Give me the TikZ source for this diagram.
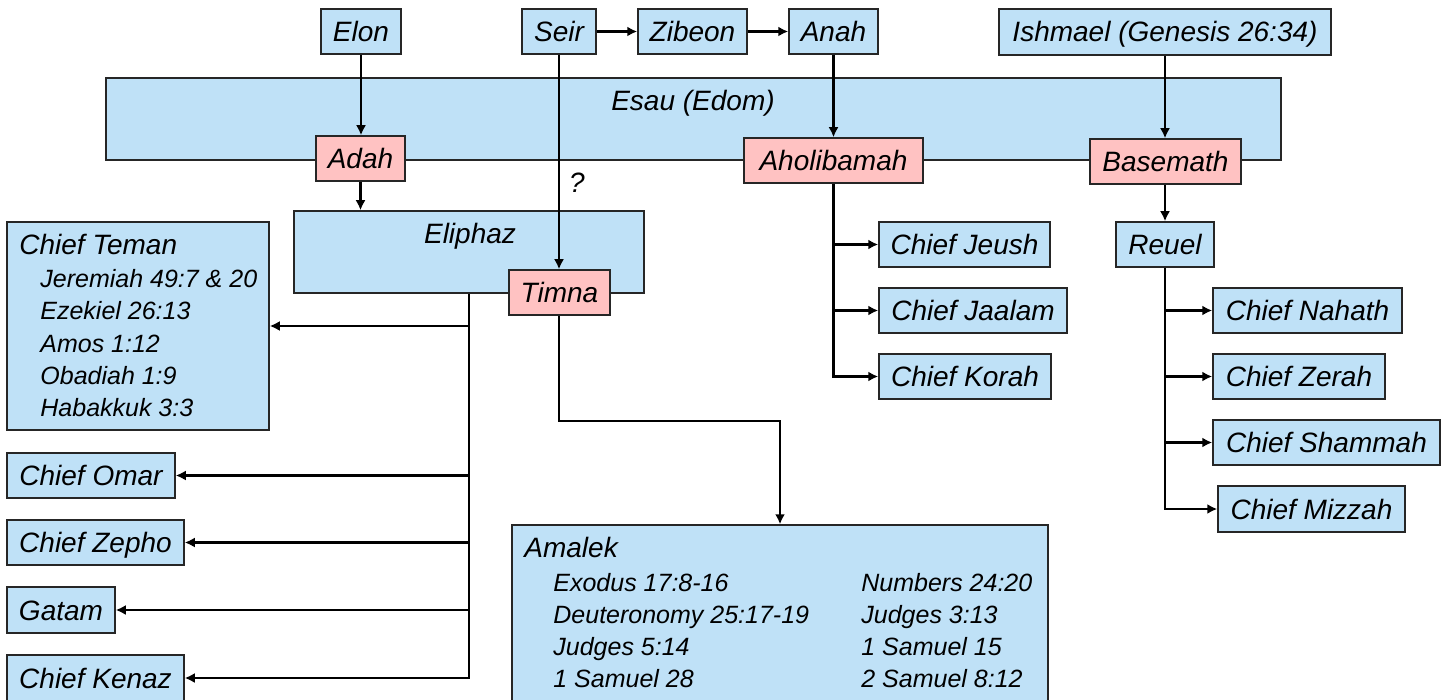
\documentclass[tikz,border=0pt]{standalone}
\usepackage{fontspec}
\setmainfont{Liberation Sans}
\usetikzlibrary{arrows.meta}
\definecolor{bl}{HTML}{BFE1F7}
\definecolor{pk}{HTML}{FFC2C2}
\definecolor{bd}{HTML}{262626}
\newcommand\bx[7]{\node[#6, minimum width={(#4-#2)*0.5pt}, minimum height={(#5-#3)*0.5pt}] (#1) at ({(#2+#4)/2},{(#3+#5)/2}) {#7};}
\begin{document}
\begin{tikzpicture}[x=0.5pt,y=-0.5pt,
  every node/.style={font=\fontsize{14}{16}\selectfont\itshape},
  box/.style={draw=bd, line width=0.75pt, fill=bl, inner sep=0pt, text height=10pt, text depth=0pt},
  wbox/.style={box, fill=pk},
  arr/.style={draw=black, line width=1.1pt, -{Latex[length=5pt,width=5pt]}},
  lbl/.style={anchor=base west, inner sep=0pt},
  sub/.style={lbl, font=\fontsize{12.5}{15}\selectfont\itshape},
  ]
\useasboundingbox (0,0) rectangle (1445,700);
% big boxes
\bx{esau}{106}{78}{1281}{160}{box}{}
\bx{eliphaz}{294}{211}{644}{293}{box}{}
\bx{teman}{7}{222}{269}{430}{box}{}
\bx{amalek}{512}{525}{1048}{702}{box}{}
% small boxes
\bx{elon}{321}{9}{401}{54}{box}{Elon}
\bx{seir}{522}{9}{596}{54}{box}{Seir}
\bx{zibeon}{638}{9}{747}{54}{box}{Zibeon}
\bx{anah}{789}{9}{878}{54}{box}{Anah}
\bx{ishmael}{999}{9}{1331}{55}{box}{Ishmael (Genesis 26:34)}
\bx{adah}{316}{136}{405}{181}{wbox}{Adah}
\bx{aholi}{744}{138}{923}{183}{wbox}{Aholibamah}
\bx{basemath}{1090}{139}{1241}{184}{wbox}{Basemath}
\bx{timna}{509}{270}{610}{315}{wbox}{Timna}
\bx{reuel}{1116}{222}{1214}{267}{box}{Reuel}
\bx{jeush}{879}{222}{1050}{267}{box}{Chief Jeush}
\bx{jaalam}{879}{288}{1067}{333}{box}{Chief Jaalam}
\bx{korah}{879}{354}{1051}{399}{box}{Chief Korah}
\bx{nahath}{1213}{288}{1402}{333}{box}{Chief Nahath}
\bx{zerah}{1213}{354}{1385}{399}{box}{Chief Zerah}
\bx{shammah}{1213}{420}{1440}{465}{box}{Chief Shammah}
\bx{mizzah}{1218}{486}{1405}{532}{box}{Chief Mizzah}
\bx{omar}{7}{453}{175}{498}{box}{Chief Omar}
\bx{zepho}{7}{520}{184}{565}{box}{Chief Zepho}
\bx{gatam}{7}{587}{115}{633}{box}{Gatam}
\bx{kenaz}{7}{655}{184}{701}{box}{Chief Kenaz}
% texts in big boxes
\node[anchor=base, inner sep=0pt] (esautext) at (693,111) {Esau (Edom)};
\node[anchor=base, inner sep=0pt] (eliphaztext) at (470,243) {Eliphaz};
\node[lbl] (temantitle) at (19,255) {Chief Teman};
\node[sub] (teman1) at (40,287) {Jeremiah 49:7 \& 20};
\node[sub] (teman2) at (40,320) {Ezekiel 26:13};
\node[sub] (teman3) at (40,352) {Amos 1:12};
\node[sub] (teman4) at (40,384) {Obadiah 1:9};
\node[sub] (teman5) at (40,416) {Habakkuk 3:3};
\node[lbl] (amalektitle) at (524,557) {Amalek};
\node[sub] (am1) at (553,591) {Exodus 17:8-16};
\node[sub] (am2) at (553,623) {Deuteronomy 25:17-19};
\node[sub] (am3) at (553,655) {Judges 5:14};
\node[sub] (am4) at (553,687) {1 Samuel 28};
\node[sub] (am5) at (861,591) {Numbers 24:20};
\node[sub] (am6) at (861,623) {Judges 3:13};
\node[sub] (am7) at (861,655) {1 Samuel 15};
\node[sub] (am8) at (861,687) {2 Samuel 8:12};
\node[inner sep=0pt] (q) at (577,183) {?};
% connectors
\draw[arr] (elon.south) -- (elon.south |- adah.north);
\draw[arr] (seir.east) -- (zibeon.west);
\draw[arr] (zibeon.east) -- (anah.west);
\draw[arr] (seir.south) -- (seir.south |- timna.north);
\draw[arr] (anah.south) -- (anah.south |- aholi.north);
\draw[arr] (ishmael.south) -- (ishmael.south |- basemath.north);
\draw[arr] (adah.south) -- (adah.south |- eliphaz.north);
\draw[arr] (ishmael.south |- basemath.south) -- (ishmael.south |- reuel.north);
% Eliphaz children
\draw[arr] (eliphaz.south) |- (kenaz.east);
\draw[arr] (eliphaz.south |- teman.east) -- (teman.east);
\draw[arr] (eliphaz.south |- omar.east) -- (omar.east);
\draw[arr] (eliphaz.south |- zepho.east) -- (zepho.east);
\draw[arr] (eliphaz.south |- gatam.east) -- (gatam.east);
% Timna to Amalek
\draw[arr] (seir.south |- timna.south) -- ++(0,105) -| (amalek.north);
% Aholibamah children
\draw[arr] (anah.south |- aholi.south) |- (korah.west);
\draw[arr] (anah.south |- jeush.west) -- (jeush.west);
\draw[arr] (anah.south |- jaalam.west) -- (jaalam.west);
% Reuel children
\draw[arr] (ishmael.south |- reuel.south) |- (mizzah.west);
\draw[arr] (ishmael.south |- nahath.west) -- (nahath.west);
\draw[arr] (ishmael.south |- zerah.west) -- (zerah.west);
\draw[arr] (ishmael.south |- shammah.west) -- (shammah.west);
\end{tikzpicture}
\end{document}
